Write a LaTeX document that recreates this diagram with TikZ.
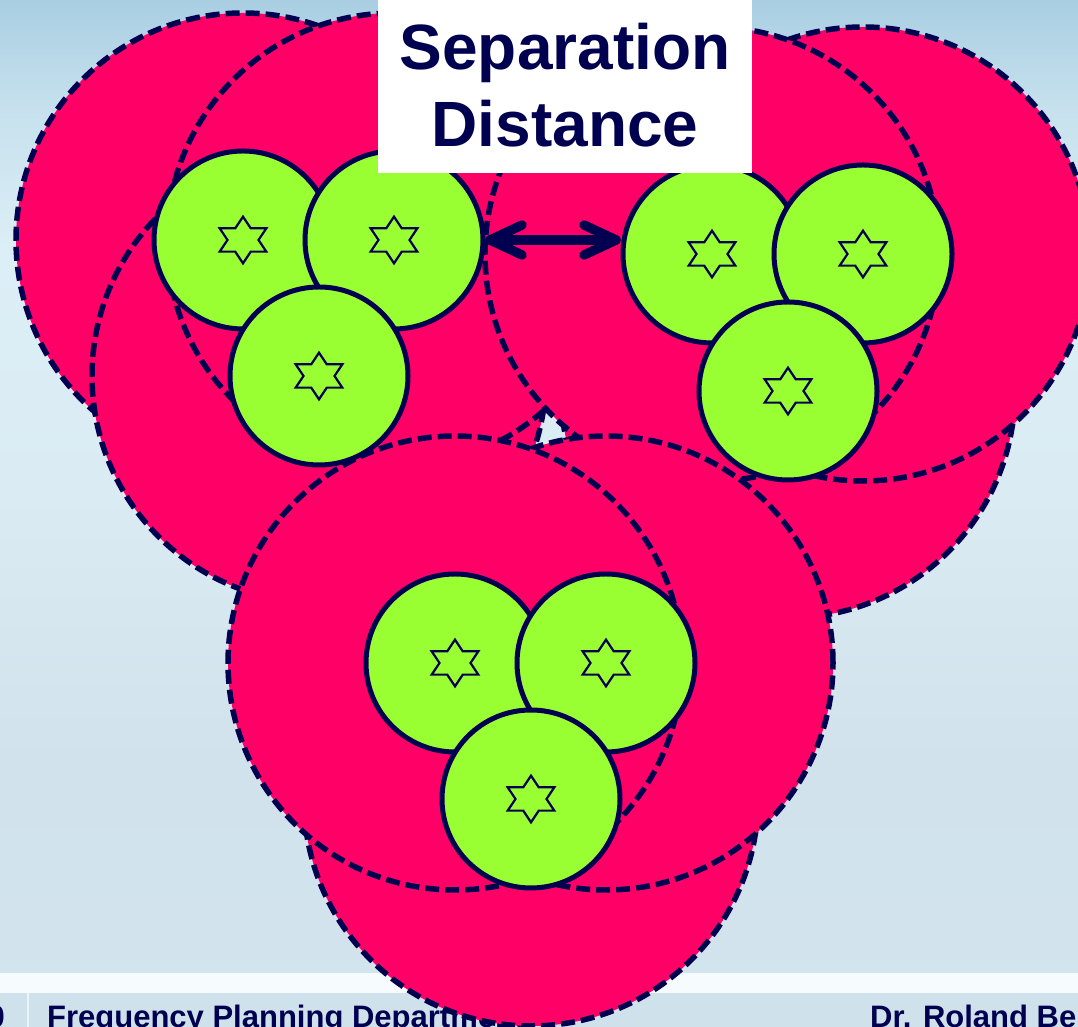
\documentclass[tikz,border=0pt]{standalone}
\usepackage{fontspec}
\setmainfont{Liberation Sans}
\definecolor{navy}{RGB}{0,0,80}
\definecolor{pinkfill}{HTML}{FF0066}
\definecolor{greenfill}{HTML}{99FF33}
\definecolor{bgT}{HTML}{A9CEE2}
\definecolor{bgF}{HTML}{C5E0ED}
\definecolor{bgE}{HTML}{DCEEF6}
\definecolor{bgD}{HTML}{DAEBF3}
\definecolor{bgC}{HTML}{D1E2EC}
\definecolor{bgB}{HTML}{D2E4EE}
\definecolor{footbg}{HTML}{CFE2EC}
\definecolor{bandwhite}{HTML}{F6FBFD}
\pgfdeclareverticalshading{bgshade}{100bp}{color(0bp)=(bgB); color(25bp)=(bgB); color(38bp)=(bgC); color(51bp)=(bgD); color(63bp)=(bgE); color(70bp)=(bgF); color(75bp)=(bgT); color(100bp)=(bgT)}
\tikzset{
  pinkc/.style={circle, minimum size=454pt, inner sep=0pt, fill=pinkfill, draw=navy, line width=5.5pt, dash pattern=on 14pt off 6pt},
  greenc/.style={circle, minimum size=178pt, inner sep=0pt, fill=greenfill, draw=navy, line width=5pt},
  starline/.style={draw=navy, line width=2.2pt, line join=miter},
  arrline/.style={draw=navy, line width=9.5pt, line cap=round, line join=round},
  titletext/.style={font=\bfseries\fontsize{64}{75}\selectfont, text=navy, inner sep=0pt, anchor=base},
  foottext/.style={font=\bfseries\fontsize{31}{36}\selectfont, text=navy, inner sep=0pt, anchor=base west},
  titlebox/.style={fill=white, inner sep=0pt, minimum width=374pt, minimum height=180pt, anchor=south west}
}
\begin{document}
\begin{tikzpicture}[x=1pt,y=1pt]
\useasboundingbox (0,0) rectangle (1078,1027);
\clip (0,0) rectangle (1078,1027);
% background
\shade[shading=bgshade] (0,0) rectangle (1078,1027);
\fill[footbg] (0,0) rectangle (1078,34);
\fill[bandwhite] (0,34) rectangle (1078,54);
\draw[white!60!footbg, line width=2pt] (28,0) -- (28,34);
\node[foottext, anchor=base east] (fnum) at (5,-1) {0};
\node[foottext] (ft1) at (47,-1) {Frequency Planning Department};
\node[foottext] (ft2) at (870,-1) {Dr. Roland Beutler};
% centres
\coordinate (c11) at (243,787);
\coordinate (c12) at (394,787);
\coordinate (c13) at (319,651);
\coordinate (c21) at (712,773);
\coordinate (c22) at (863,773);
\coordinate (c23) at (788,636);
\coordinate (c31) at (455,364);
\coordinate (c32) at (606,364);
\coordinate (c33) at (531,228);
% interference areas
\node[pinkc] (p11) at (c11) {};
\node[pinkc] (p13) at (c13) {};
\node[pinkc] (p12) at (c12) {};
\node[pinkc] (p23) at (c23) {};
\node[pinkc] (p22) at (c22) {};
\node[pinkc] (p21) at (c21) {};
\node[pinkc] (p33) at (c33) {};
\node[pinkc] (p32) at (c32) {};
\node[pinkc] (p31) at (c31) {};
% coverage areas
\node[greenc] (g11) at (c11) {};
\node[greenc] (g12) at (c12) {};
\node[greenc] (g13) at (c13) {};
\node[greenc] (g21) at (c21) {};
\node[greenc] (g22) at (c22) {};
\node[greenc] (g23) at (c23) {};
\node[greenc] (g31) at (c31) {};
\node[greenc] (g32) at (c32) {};
\node[greenc] (g33) at (c33) {};
% transmitter stars
\foreach \n in {g11,g12,g13,g21,g22,g23,g31,g32,g33}{
  \draw[starline, shift={(\n.center)}] (0,23.3) -- (7.77,11.65) -- (23.3,11.65) -- (15.5,0) -- (23.3,-11.65) -- (7.77,-11.65) -- (0,-23.3) -- (-7.77,-11.65) -- (-23.3,-11.65) -- (-15.5,0) -- (-23.3,11.65) -- (-7.77,11.65) -- cycle;
}
% separation arrow
\coordinate (aL) at ([xshift=4.5pt]g12.east);
\coordinate (aR) at ([xshift=-4.5pt]g21.west |- aL);
\draw[arrline] (aL) -- (aR);
\draw[arrline] ([shift={(32,15)}]aL) -- (aL) -- ([shift={(32,-15)}]aL);
\draw[arrline] ([shift={(-32,15)}]aR) -- (aR) -- ([shift={(-32,-15)}]aR);
% title
\node[titlebox] (tbox) at (378,854) {};
\node[titletext] (t1) at (565,957) {Separation};
\node[titletext] (t2) at (565,880) {Distance};
\end{tikzpicture}
\end{document}
